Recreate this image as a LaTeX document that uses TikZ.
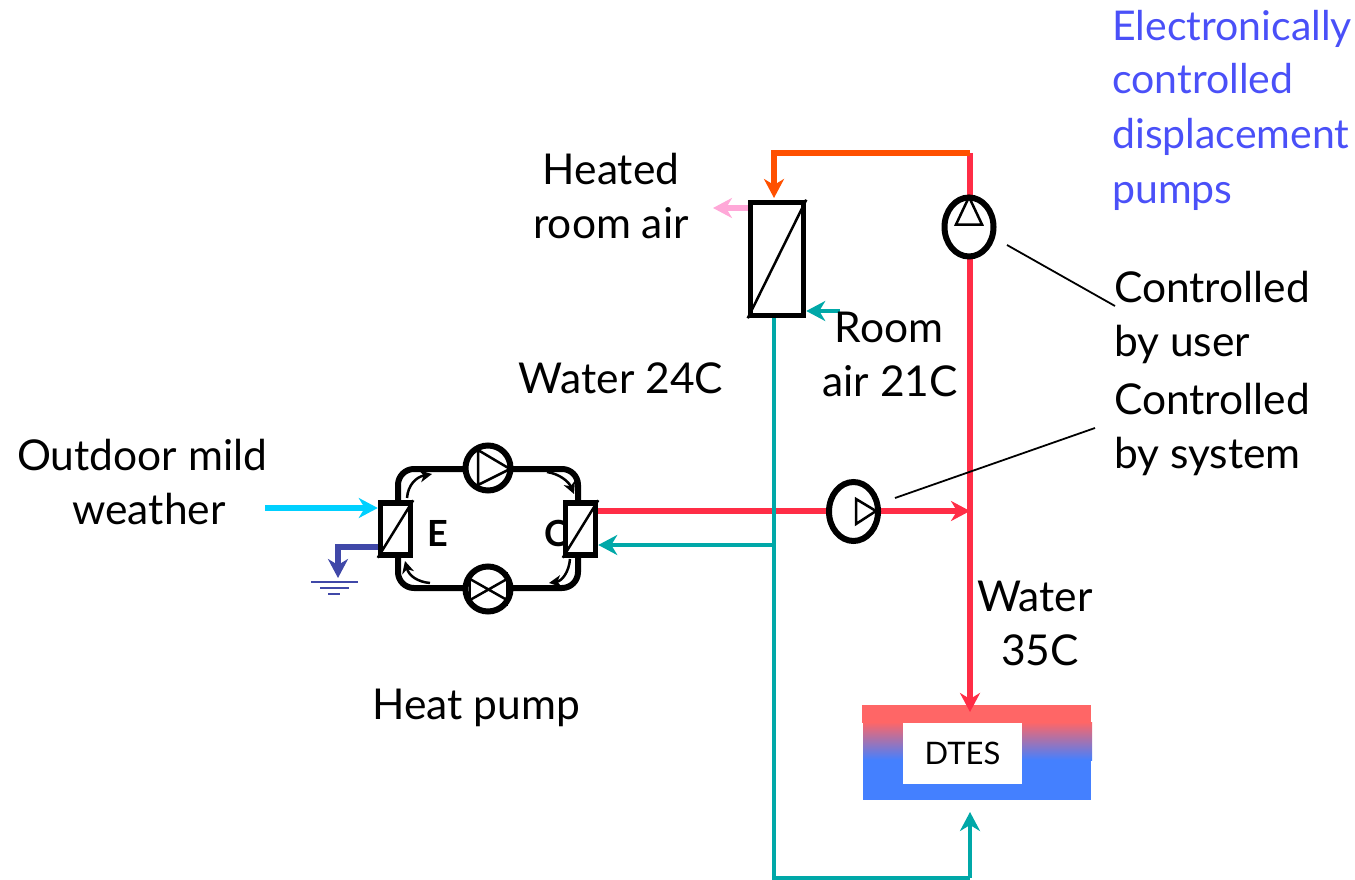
\documentclass[tikz,border=0pt]{standalone}
\usepackage{fontspec}
\setmainfont{Lato}
\usetikzlibrary{arrows.meta,shapes.geometric,calc}
\definecolor{redw}{HTML}{FF2D46}
\definecolor{oran}{HTML}{FF5000}
\definecolor{teal2}{HTML}{00A8A8}
\definecolor{cyan2}{HTML}{00D0FF}
\definecolor{pink2}{HTML}{FFA8D8}
\definecolor{blue2}{HTML}{4048A8}
\definecolor{lblue}{HTML}{4A50F8}
\definecolor{tophot}{HTML}{FF6666}
\definecolor{botcold}{HTML}{4480FF}
\tikzset{
  x=1pt,y=-1pt,
  tipf/.style={-{Stealth[length=19pt,width=20pt,inset=6pt]}},
  pipe/.style={line width=5.5pt,line join=miter},
  thinpipe/.style={line width=4.5pt,line join=miter},
  hxbox/.style={draw=black,line width=5.5pt,fill=white,rectangle,inner sep=0pt},
  pumpc/.style={draw=black,line width=6pt,fill=white,ellipse,inner sep=0pt},
  lbl/.style={font=\fontsize{42.5}{42.5}\selectfont,inner sep=0pt,anchor=base,align=center},
  lbll/.style={lbl,anchor=base west},
  blbl/.style={font=\fontsize{41}{41}\selectfont,inner sep=0pt,anchor=base west,text=lblue},
  curv/.style={line width=2.5pt,-{Stealth[length=12pt,width=12pt,inset=3.5pt]}},
  lead/.style={line width=1.8pt,black},
}
\begin{document}
\begin{tikzpicture}
\useasboundingbox (0,0) rectangle (1355,880);
% coordinates
\coordinate (topR) at (970,153);
\coordinate (topL) at (774,153);
\coordinate (join) at (970,511);
\coordinate (teeT) at (774,545);
\coordinate (botL) at (774,878);
\coordinate (botR) at (970,878);
\coordinate (dtesIn) at (970,812);
\coordinate (cyanS) at (265,508);
\coordinate (gndTop) at (338,578);
\coordinate (gndElbow) at (338,547);
\coordinate (pinkE) at (713,208);
\coordinate (roomS) at (840,311);
\coordinate (lead1s) at (1007,245);
\coordinate (lead1e) at (1115,306);
\coordinate (lead2s) at (895,498);
\coordinate (lead2e) at (1095,428);

% DTES
\fill[tophot] (862,705) rectangle (1091,723);
\shade[top color=tophot,bottom color=botcold] (863,722) rectangle (1092,760);
\fill[botcold] (863,760) rectangle (1091,800);
\node[fill=white,minimum width=119pt,minimum height=61pt,inner sep=0pt,font=\fontsize{31}{31}\selectfont] (dtes) at (962.5,753.5) {DTES};
\coordinate (dtesTop) at (970,724);

% heat pump loop
\draw[line width=6pt,rounded corners=16pt] (398,469) -- (578,469) -- (578,588) -- (398,588) -- cycle;
\node[font=\bfseries\fontsize{36}{36}\selectfont,inner sep=0pt] (elab) at (438,533) {E};
\node[font=\bfseries\fontsize{36}{36}\selectfont,inner sep=0pt] (clab) at (556,533) {C};

% exchangers
\node[hxbox,minimum width=30pt,minimum height=52pt] (hxE) at (395.5,529) {};
\node[hxbox,minimum width=30pt,minimum height=52pt] (hxC) at (580.5,529) {};
\node[hxbox,minimum width=53pt,minimum height=113pt] (hxR) at (777,259) {};
\draw[line width=2.5pt] (hxE.south west) -- (hxE.north east);
\draw[line width=2.5pt] (hxC.south west) -- (hxC.north east);
\draw[line width=2.5pt] (hxR.south west) -- (hxR.north east);

% compressor and valve
\node[pumpc,minimum width=45pt,minimum height=45pt] (comp) at (488,468) {};
\draw[line width=2.5pt,line join=miter] (478,450) -- (510,469) -- (478,485) -- cycle;
\node[pumpc,minimum width=45pt,minimum height=45pt] (valve) at (488,589) {};
\draw[line width=2.5pt] (470,579) -- (507,600) (507,579) -- (470,600);
\draw[line width=2.5pt] (470,572) -- (470,606) (507,572) -- (507,606);

% circulation arrows
\draw[curv] (407,498) .. controls (408,485) and (416,477) .. (432,474);
\draw[curv] (547,472) .. controls (560,474) and (569,482) .. (574,494);
\draw[curv] (570,559) .. controls (569,572) and (562,581) .. (549,583);
\draw[curv] (430,583) .. controls (418,582) and (409,576) .. (405,561);

% water lines
\draw[pipe,redw,tipf] (hxC.east |- join) ++(0,0) -- (join);
\draw[pipe,redw] (topR) -- (970,200);
\draw[pipe,redw,tipf] (970,255) -- (970,712);
\draw[thinpipe,teal2] (hxR.south -| topL) -- (botL) -- (botR);
\draw[thinpipe,teal2,tipf] (botR) -- (dtesIn);
\draw[thinpipe,teal2,tipf] (teeT) -- (hxC.east |- teeT);
\draw[pipe,oran,tipf] (topR) -- (topL) -- (774,198);
\draw[thinpipe,teal2,tipf] (roomS) -- (hxR.east |- roomS);
\draw[pipe,pink2,tipf] (hxR.west |- pinkE) -- (pinkE);
\draw[pipe,cyan2,tipf] (cyanS) -- (hxE.west |- cyanS);
\draw[pipe,blue2,tipf] (hxE.west |- gndElbow) -- (gndElbow) -- (gndTop);
% ground
\draw[blue2,line width=2.5pt] (311,582) -- (358,582) (320,588) -- (349,588) (328,594) -- (340,594);

% pumps
\node[pumpc,minimum width=49pt,minimum height=59pt] (p1) at (969,227) {};
\draw[line width=2.5pt,line join=miter] (969,197) -- (982,224.5) -- (956,224.5) -- cycle;
\node[pumpc,minimum width=49pt,minimum height=59pt] (p2) at (853.5,511.5) {};
\draw[line width=2.5pt,line join=miter] (856,499) -- (876,511) -- (856,524) -- cycle;

% leaders
\draw[lead] (lead1s) -- (lead1e);
\draw[lead] (lead2s) -- (lead2e);

% labels
\node[lbl] (t1) at (611,184) {Heated};
\node[lbl] (t2) at (611,238) {room air};
\node[lbl] (t3) at (621,393) {Water 24C};
\node[lbl] (t4) at (889,342) {Room};
\node[lbl] (t5) at (890,396) {air 21C};
\node[lbl] (t6) at (142,470) {Outdoor mild};
\node[lbl] (t7) at (149,524) {weather};
\node[lbl] (t8) at (476,719) {Heat pump};
\node[lbl] (t9) at (1035,611) {Water};
\node[lbl] (t10) at (1040,665) {35C};
\node[lbll] (t11) at (1114,302) {Controlled};
\node[lbll] (t12) at (1114,356) {by user};
\node[lbll] (t13) at (1114,414) {Controlled};
\node[lbll] (t14) at (1114,468) {by system};
\node[blbl] (t15) at (1112,41) {Electronically};
\node[blbl] (t16) at (1112,94) {controlled};
\node[blbl] (t17) at (1112,149) {displacement};
\node[blbl] (t18) at (1112,204) {pumps};
\end{tikzpicture}
\end{document}
